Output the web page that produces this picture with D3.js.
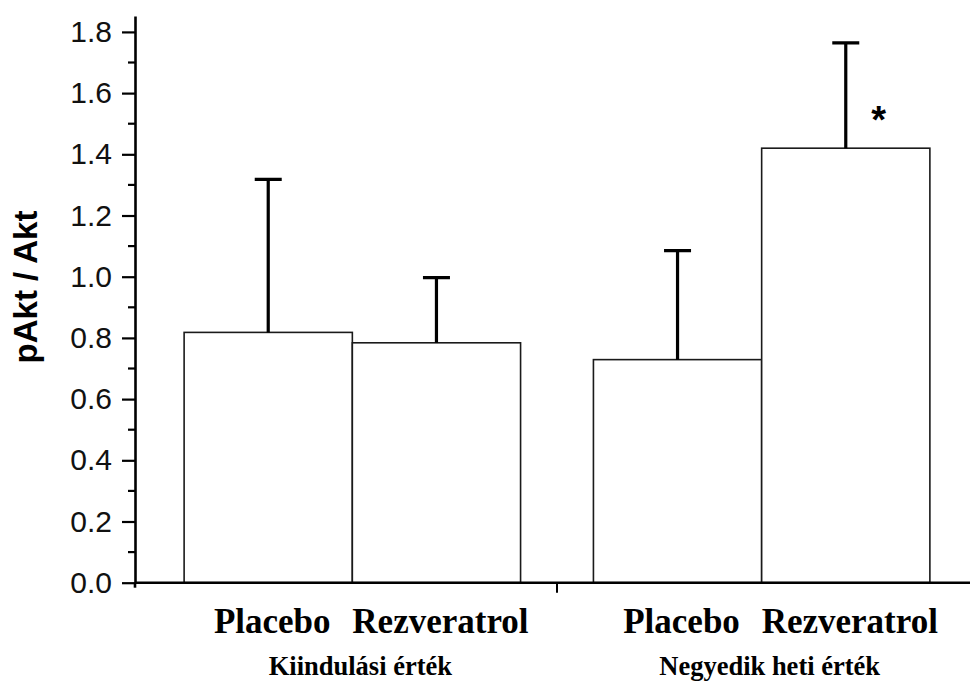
<!DOCTYPE html>
<html>
<head>
<meta charset="utf-8">
<script src="https://cdn.jsdelivr.net/npm/d3@7"></script>
<style>
  body { margin: 0; background: #fff; }
  .tick text { font-family: "Liberation Sans", Arial, sans-serif; }
</style>
</head>
<body>
<svg id="chart"></svg>
<script>
// values
var groups = ["Kiindulási érték", "Negyedik heti érték"]
  , treatments = ["Placebo", "Rezveratrol"]
  , means = [[0.818, 0.784], [0.729, 1.42]]   // bar heights per group
  , errors = [[0.50, 0.213], [0.356, 0.344]]  // upper error bars (SD)
  , yTicks = [0, 0.2, 0.4, 0.6, 0.8, 1.0, 1.2, 1.4, 1.6, 1.8]
  , yMinorTicks = [0.1, 0.3, 0.5, 0.7, 0.9, 1.1, 1.3, 1.5, 1.7]
  , significant = [[false, false], [false, true]];

var width = 970
  , height = 684
  , axis_x = 135    // x position of the y axis
  , axis_y = 582.7  // y position of the x axis
  , top_y = 16
  , cap = 13.5;     // half width of the error bar caps

var svg = d3.select("#chart")
  .attr("width", width)
  .attr("height", height);

// y scale: 0 at the x axis, axis line runs a bit past 1.8
var yScale = d3.scaleLinear()
  .domain([0, 1.852])
  .range([axis_y, top_y]);

// outer scale for the two time points, inner for the treatments
var xGroup = d3.scaleBand()
  .domain(groups)
  .range([axis_x, 979])
  .paddingInner(0.178)
  .paddingOuter(0.12);

var xInner = d3.scaleBand()
  .domain(treatments)
  .range([0, xGroup.bandwidth()]);

// flatten to one record per bar
var bars = [];
groups.forEach(function(g, i){
  treatments.forEach(function(t, j){
    bars.push({group: g, treatment: t, value: means[i][j], err: errors[i][j], sig: significant[i][j]});
  });
});

var barX = d => xGroup(d.group) + xInner(d.treatment)
  , barMid = d => barX(d) + xInner.bandwidth()/2;

// bars
svg.append("g")
  .selectAll("rect")
  .data(bars)
 .enter().append("rect")
  .attr("x", barX)
  .attr("y", d => yScale(d.value))
  .attr("width", xInner.bandwidth())
  .attr("height", d => axis_y - yScale(d.value))
  .style("fill", "#fff")
  .style("stroke", "#1a1a1a")
  .style("stroke-width", 1.6);

// error bars (upper only)
var err = svg.append("g")
  .style("stroke", "#000")
  .style("stroke-width", 3.2)
  .style("fill", "none");

err.selectAll(".stem")
  .data(bars)
 .enter().append("path")
  .classed("stem", true)
  .attr("d", function(d){
    var x = barMid(d)
      , y1 = yScale(d.value)
      , y2 = yScale(d.value + d.err);
    return "M" + x + "," + y1 + "V" + y2 + "M" + (x - cap) + "," + y2 + "H" + (x + cap);
  });

// significance mark
svg.selectAll(".sig")
  .data(bars.filter(d => d.sig))
 .enter().append("text")
  .classed("sig", true)
  .attr("x", d => barMid(d) + 33)
  .attr("y", d => yScale(d.value) - 15)
  .attr("text-anchor", "middle")
  .style("font-family", "Liberation Sans, Arial, sans-serif")
  .style("font-weight", "bold")
  .style("font-size", "38px")
  .text("*");

// y axis with major and minor ticks
var yAxis = d3.axisLeft(yScale)
  .tickValues(yTicks)
  .tickFormat(d3.format(".1f"))
  .tickSize(13)
  .tickSizeOuter(0)
  .tickPadding(10);

var gy = svg.append("g")
  .attr("transform", "translate(" + axis_x + ",0)")
  .call(yAxis);

gy.select(".domain").style("stroke-width", 2.6);
gy.selectAll(".tick line").style("stroke-width", 2.2);
gy.selectAll(".tick text")
  .style("font-size", "30px")
  .style("fill", "#111");

gy.selectAll(".minor")
  .data(yMinorTicks)
 .enter().append("line")
  .classed("minor", true)
  .attr("x1", -7)
  .attr("x2", 0)
  .attr("y1", d => yScale(d))
  .attr("y2", d => yScale(d))
  .style("stroke", "#000")
  .style("stroke-width", 2.2);

// extend the y axis line slightly below the x axis
gy.append("line")
  .attr("x1", 0).attr("x2", 0)
  .attr("y1", axis_y).attr("y2", axis_y + 5)
  .style("stroke", "#000")
  .style("stroke-width", 2.6);

// x axis line across the whole width
svg.append("line")
  .attr("x1", axis_x)
  .attr("x2", width)
  .attr("y1", axis_y)
  .attr("y2", axis_y)
  .style("stroke", "#000")
  .style("stroke-width", 2.6);

// divider tick between the two groups
var divider = (xGroup(groups[0]) + xGroup.bandwidth() + xGroup(groups[1]))/2;
svg.append("line")
  .attr("x1", divider).attr("x2", divider)
  .attr("y1", axis_y).attr("y2", axis_y + 10)
  .style("stroke", "#000")
  .style("stroke-width", 2);

// treatment labels
svg.selectAll(".treat")
  .data(bars)
 .enter().append("text")
  .classed("treat", true)
  .attr("x", d => barMid(d) + 4)
  .attr("y", 633)
  .attr("text-anchor", "middle")
  .style("font-family", "Liberation Serif, Times New Roman, serif")
  .style("font-weight", "bold")
  .style("font-size", "35px")
  .text(d => d.treatment);

// time point labels
svg.selectAll(".grp")
  .data(groups)
 .enter().append("text")
  .classed("grp", true)
  .attr("x", d => xGroup(d) + xGroup.bandwidth()/2 + 8)
  .attr("y", 675)
  .attr("text-anchor", "middle")
  .style("font-family", "Liberation Serif, Times New Roman, serif")
  .style("font-weight", "bold")
  .style("font-size", "26.5px")
  .text(d => d);

// y axis title
svg.append("text")
  .attr("transform", "translate(37,287) rotate(-90)")
  .attr("text-anchor", "middle")
  .style("font-family", "Liberation Sans, Arial, sans-serif")
  .style("font-weight", "bold")
  .style("font-size", "33px")
  .text("pAkt / Akt");
</script>
</body>
</html>
